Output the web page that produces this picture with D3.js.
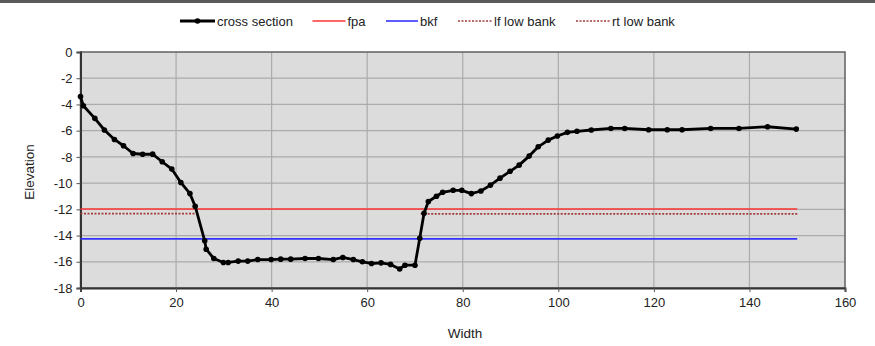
<!DOCTYPE html>
<html><head><meta charset="utf-8">
<script src="https://cdn.jsdelivr.net/npm/d3@7"></script>
<style>
html,body{margin:0;padding:0;background:#fff;}
svg{display:block;font-family:"Liberation Sans",Arial,sans-serif;}
</style></head>
<body>
<svg id="chart" width="875" height="346"></svg>
<script>
const widthVals = [0,0.6,3.0,5.0,7.1,9.0,11.0,13.0,15.1,17.1,19.1,21.0,22.9,24.0,26.0,26.3,27.9,29.9,30.9,33.0,35.0,37.1,39.9,41.9,44.0,47.0,49.8,52.9,54.9,57.1,59.0,60.9,62.9,64.9,66.8,67.9,70.0,71.0,71.9,72.8,74.5,75.8,78.0,79.8,81.8,83.8,85.8,87.8,89.9,91.8,93.9,95.8,97.9,99.8,101.9,103.9,106.9,111.0,113.9,118.9,122.8,125.9,131.9,137.8,143.8,149.8];
const elevVals = [-3.4,-4.1,-5.06,-5.95,-6.67,-7.15,-7.74,-7.8,-7.79,-8.37,-8.93,-9.95,-10.8,-11.76,-14.4,-15.04,-15.75,-16.05,-16.05,-15.95,-15.95,-15.83,-15.83,-15.8,-15.8,-15.75,-15.75,-15.83,-15.67,-15.83,-16.0,-16.13,-16.08,-16.2,-16.55,-16.26,-16.26,-14.2,-12.3,-11.4,-11.0,-10.7,-10.55,-10.55,-10.8,-10.6,-10.15,-9.62,-9.1,-8.63,-7.94,-7.23,-6.72,-6.41,-6.13,-6.05,-5.95,-5.83,-5.83,-5.93,-5.93,-5.93,-5.83,-5.83,-5.7,-5.88];
const refNames = ["fpa","bkf","lf low bank","rt low bank"];
const refStart = [0,0,0,71.2];
const refEnd = [150,150,24.1,150];
const refElev = [-11.97,-14.25,-12.33,-12.35];
const xTicks = [0,20,40,60,80,100,120,140,160];
const yTicks = [0,-2,-4,-6,-8,-10,-12,-14,-16,-18];
const legendLabels = ["cross section","fpa","bkf","lf low bank","rt low bank"];

const refColors = ["#ff3333","#3333ff","#a33a3a","#a33a3a"];
const refDash = [null,null,"2,1.5","2,1.5"];

const svg = d3.select("#chart");
const x = d3.scaleLinear().domain([0,160]).range([80.5,845]);
const y = d3.scaleLinear().domain([-18,0]).range([288,52]);

// top rule
svg.append("rect").attr("x",0).attr("y",0).attr("width",875).attr("height",3).attr("fill","#5a5a5a");

// plot background
svg.append("rect").attr("x",x(0)).attr("y",y(0)).attr("width",x(160)-x(0)).attr("height",y(-18)-y(0)).attr("fill","#dcdcdc");

// grid
svg.append("g").selectAll("line").data(yTicks.filter(d=>d!==0 && d!==-18)).join("line")
  .attr("x1",x(0)).attr("x2",x(160)).attr("y1",d=>y(d)).attr("y2",d=>y(d))
  .attr("stroke","#ababab").attr("stroke-width",1.2);
svg.append("g").selectAll("line").data(xTicks.filter(d=>d!==0 && d!==160)).join("line")
  .attr("y1",y(0)).attr("y2",y(-18)).attr("x1",d=>x(d)).attr("x2",d=>x(d))
  .attr("stroke","#ababab").attr("stroke-width",1.2);

// frame
svg.append("rect").attr("x",x(0)).attr("y",y(0)).attr("width",x(160)-x(0)).attr("height",y(-18)-y(0))
  .attr("fill","none").attr("stroke","#606060").attr("stroke-width",1.5);

// axes
const xAxis = svg.append("g").attr("transform",`translate(0,${y(-18)})`)
  .call(d3.axisBottom(x).tickValues(xTicks).tickSize(4).tickPadding(6).tickFormat(d3.format("d")));
const yAxis = svg.append("g").attr("transform",`translate(${x(0)},0)`)
  .call(d3.axisLeft(y).tickValues(yTicks).tickSize(4).tickPadding(4).tickFormat(d=>d===0?"0":"-"+Math.abs(d)));
[xAxis,yAxis].forEach(a=>{
  a.select(".domain").attr("stroke","#333").attr("stroke-width",2);
  a.selectAll(".tick line").attr("stroke","#555");
  a.selectAll("text").attr("font-family","Liberation Sans, Arial, sans-serif").attr("font-size",13).attr("fill","#222");
});

// axis titles
svg.append("text").attr("x",465).attr("y",338).attr("text-anchor","middle")
  .attr("font-size",13.5).attr("fill","#222").text("Width");
svg.append("text").attr("transform","translate(34,172) rotate(-90)").attr("text-anchor","middle")
  .attr("font-size",13.5).attr("fill","#222").text("Elevation");

// reference lines
refNames.forEach((n,i)=>{
  svg.append("line").attr("x1",x(refStart[i])).attr("x2",x(refEnd[i]))
    .attr("y1",y(refElev[i])).attr("y2",y(refElev[i]))
    .attr("stroke",refColors[i]).attr("stroke-width",1.6)
    .attr("stroke-dasharray",refDash[i]);
});

// cross section
const pts = widthVals.map((w,i)=>[w,elevVals[i]]);
svg.append("path").datum(pts)
  .attr("d",d3.line().x(d=>x(d[0])).y(d=>y(d[1])))
  .attr("fill","none").attr("stroke","#000").attr("stroke-width",2.8).attr("stroke-linejoin","round");
svg.append("g").selectAll("circle").data(pts).join("circle")
  .attr("cx",d=>x(d[0])).attr("cy",d=>y(d[1])).attr("r",2.8).attr("fill","#000");

// legend
const legX = [180,312.5,386,458,576];
const legW = [35,33,32,34,34];
const legColors = ["#000"].concat(refColors);
const legDash = [null].concat(refDash);
const lg = svg.append("g");
legendLabels.forEach((lab,i)=>{
  lg.append("line").attr("x1",legX[i]).attr("x2",legX[i]+legW[i]).attr("y1",21).attr("y2",21)
    .attr("stroke",legColors[i]).attr("stroke-width",i===0?2.8:1.6).attr("stroke-dasharray",legDash[i]);
  if(i===0) lg.append("circle").attr("cx",legX[i]+legW[i]/2).attr("cy",21).attr("r",2.8).attr("fill","#000");
  lg.append("text").attr("x",legX[i]+legW[i]+2).attr("y",25.5).attr("font-size",13).attr("fill","#222").text(lab);
});
</script>
</body></html>
